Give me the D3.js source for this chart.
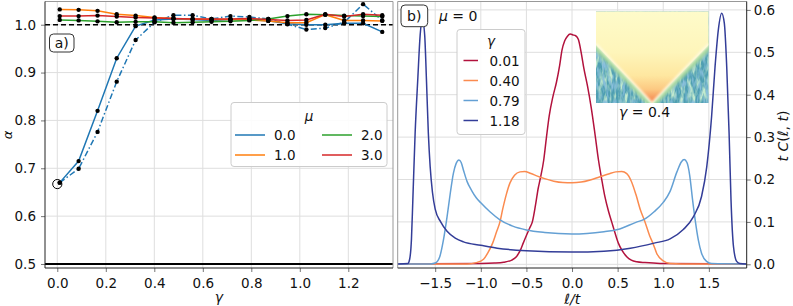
<!DOCTYPE html>
<html><head><meta charset="utf-8">
<script src="https://cdn.jsdelivr.net/npm/d3@7"></script>
<style>
body{margin:0;background:#fff}
svg{display:block}
text{font-family:"DejaVu Sans",sans-serif;fill:#111}
</style>
</head><body>
<svg id="c" width="793" height="306"></svg>
<script>
// ---------- Panel a) data ----------
const gammaVals = [0.01,0.088,0.166,0.245,0.323,0.401,0.479,0.558,0.636,0.714,0.792,0.870,0.949,1.027,1.105,1.183,1.261,1.340];
const muLabels = ["0.0","1.0","2.0","3.0"];
const alphaMu0   = [0.670,0.715,0.820,0.930,0.997,1.010,1.012,1.011,1.009,1.011,1.011,1.008,1.002,1.000,1.000,1.003,1.003,0.985];
const alphaMu0dd = [0.670,0.699,0.776,0.881,0.968,1.005,1.020,1.020,1.012,1.018,1.016,1.012,1.001,0.990,0.993,1.005,1.043,1.009];
const alphaMu1   = [1.032,1.031,1.029,1.022,1.019,1.015,1.013,1.012,1.011,1.011,1.010,1.008,1.004,1.004,1.021,1.009,1.009,1.008];
const alphaMu2   = [1.010,1.009,1.007,1.005,1.006,1.006,1.004,1.005,1.006,1.007,1.009,1.012,1.018,1.022,1.021,1.019,1.018,1.017];
const alphaMu3   = [1.018,1.018,1.019,1.017,1.015,1.014,1.013,1.012,1.012,1.012,1.013,1.011,1.009,1.010,1.022,1.017,1.022,1.020];
const refPoint = [0.0, 0.667];
const hLineDashed = 1.0, hLineSolid = 0.5;
const xTicksA = [0,0.2,0.4,0.6,0.8,1.0,1.2];
const yTicksA = [0.5,0.6,0.7,0.8,0.9,1.0];

// ---------- Panel b) data ----------
const gammaLabels = ["0.01","0.40","0.79","1.18"];
const curveG001 = [[-1.91,0.001],[-1.0,0.002],[-0.85,0.003],[-0.75,0.005],[-0.66,0.010],[-0.61,0.018],[-0.565,0.034],[-0.535,0.050],[-0.50,0.068],[-0.465,0.085],[-0.435,0.100],[-0.40,0.140],[-0.37,0.180],[-0.35,0.200],[-0.31,0.246],[-0.28,0.300],[-0.25,0.350],[-0.21,0.395],[-0.17,0.430],[-0.135,0.470],[-0.11,0.505],[-0.08,0.527],[-0.05,0.538],[-0.02,0.543],[0.01,0.541],[0.04,0.539],[0.07,0.530],[0.10,0.500],[0.13,0.462],[0.17,0.420],[0.21,0.370],[0.25,0.310],[0.29,0.246],[0.326,0.200],[0.36,0.160],[0.40,0.125],[0.435,0.100],[0.47,0.075],[0.508,0.050],[0.545,0.034],[0.60,0.018],[0.65,0.010],[0.71,0.006],[0.80,0.004],[0.965,0.002],[1.91,0.001]];
const curveG040 = [[-1.91,0.001],[-1.15,0.001],[-1.05,0.004],[-0.97,0.012],[-0.92,0.028],[-0.87,0.050],[-0.83,0.075],[-0.79,0.100],[-0.76,0.130],[-0.72,0.165],[-0.68,0.192],[-0.63,0.210],[-0.57,0.218],[-0.52,0.219],[-0.45,0.214],[-0.38,0.208],[-0.30,0.202],[-0.20,0.196],[-0.10,0.193],[0,0.1925],[0.10,0.194],[0.20,0.199],[0.30,0.206],[0.40,0.213],[0.48,0.218],[0.545,0.219],[0.60,0.214],[0.65,0.196],[0.70,0.165],[0.75,0.128],[0.80,0.100],[0.85,0.068],[0.89,0.048],[0.93,0.025],[1.0,0.008],[1.075,0.002],[1.20,0.001],[1.91,0.001]];
const curveG079 = [[-1.91,0.001],[-1.55,0.001],[-1.50,0.003],[-1.45,0.018],[-1.41,0.057],[-1.37,0.112],[-1.335,0.167],[-1.30,0.215],[-1.27,0.238],[-1.24,0.246],[-1.215,0.240],[-1.19,0.222],[-1.15,0.195],[-1.10,0.174],[-1.05,0.157],[-1.0,0.145],[-0.90,0.124],[-0.79,0.105],[-0.65,0.090],[-0.50,0.081],[-0.30,0.075],[0,0.0715],[0.35,0.077],[0.50,0.082],[0.70,0.099],[0.79,0.106],[0.90,0.124],[1.0,0.146],[1.075,0.172],[1.15,0.218],[1.20,0.242],[1.23,0.247],[1.26,0.240],[1.29,0.210],[1.32,0.155],[1.35,0.105],[1.385,0.057],[1.42,0.026],[1.475,0.007],[1.53,0.002],[1.91,0.001]];
const curveG118 = [[-1.91,0.001],[-1.80,0.002],[-1.78,0.012],[-1.76,0.060],[-1.745,0.152],[-1.72,0.309],[-1.69,0.440],[-1.665,0.540],[-1.64,0.578],[-1.615,0.540],[-1.595,0.430],[-1.575,0.309],[-1.555,0.230],[-1.53,0.170],[-1.50,0.130],[-1.44,0.100],[-1.37,0.078],[-1.28,0.062],[-1.19,0.053],[-1.0,0.045],[-0.82,0.038],[-0.50,0.032],[0,0.029],[0.35,0.031],[0.64,0.038],[0.90,0.050],[1.075,0.060],[1.22,0.082],[1.33,0.112],[1.42,0.160],[1.477,0.230],[1.53,0.348],[1.568,0.466],[1.604,0.553],[1.641,0.592],[1.67,0.568],[1.696,0.466],[1.722,0.309],[1.743,0.152],[1.77,0.042],[1.805,0.007],[1.84,0.002],[1.91,0.001]];
const xTicksB = [-1.5,-1,-0.5,0,0.5,1,1.5];
const yTicksB = [0,0.1,0.2,0.3,0.4,0.5,0.6];

// ---------- drawing ----------
const svg = d3.select("#c");
const FS = 13.5;
const fmt = d3.format(".1f");
const defs = svg.append("defs");

function styleAxis(g){
  g.select(".domain").remove();
  g.selectAll(".tick line").attr("stroke","#666").attr("stroke-width",0.9);
  g.selectAll(".tick text").attr("font-size",FS).attr("fill","#111").attr("font-family","DejaVu Sans");
}

// ===== Panel a =====
const A = {x0:45, x1:393, y0:1.5, y1:268};
const xA = d3.scaleLinear().domain([-0.0507,1.3843]).range([A.x0,A.x1]);
const yA = d3.scaleLinear().domain([0.4916,1.0485]).range([A.y1,A.y0]);
const gA = svg.append("g");
defs.append("clipPath").attr("id","clipA").append("rect")
  .attr("x",A.x0).attr("y",A.y0).attr("width",A.x1-A.x0).attr("height",A.y1-A.y0);

// grid
gA.append("g").selectAll("line").data(xTicksA).join("line")
  .attr("x1",d=>xA(d)).attr("x2",d=>xA(d)).attr("y1",A.y0).attr("y2",A.y1)
  .attr("stroke","#dedede").attr("stroke-width",1);
gA.append("g").selectAll("line").data(yTicksA).join("line")
  .attr("y1",d=>yA(d)).attr("y2",d=>yA(d)).attr("x1",A.x0).attr("x2",A.x1)
  .attr("stroke","#dedede").attr("stroke-width",1);

// axes
gA.append("g").attr("transform",`translate(0,${A.y1})`)
  .call(d3.axisBottom(xA).tickValues(xTicksA).tickFormat(fmt).tickSize(4).tickPadding(6)).call(styleAxis);
gA.append("g").attr("transform",`translate(${A.x0},0)`)
  .call(d3.axisLeft(yA).tickValues(yTicksA).tickFormat(fmt).tickSize(4).tickPadding(5)).call(styleAxis);

const plotA = gA.append("g").attr("clip-path","url(#clipA)");
// reference lines
plotA.append("line").attr("x1",A.x0).attr("x2",A.x1).attr("y1",yA(hLineSolid)).attr("y2",yA(hLineSolid))
  .attr("stroke","#000").attr("stroke-width",2);
plotA.append("line").attr("x1",A.x0).attr("x2",A.x1).attr("y1",yA(hLineDashed)).attr("y2",yA(hLineDashed))
  .attr("stroke","#000").attr("stroke-width",1.5).attr("stroke-dasharray","5,3");

const colA = ["#1f77b4","#ff7f0e","#2ca02c","#d62728"];
const seriesA = [
  {v:alphaMu0dd, c:colA[0], dash:"6,2.5,1.5,2.5"},
  {v:alphaMu0, c:colA[0], dash:null},
  {v:alphaMu1, c:colA[1], dash:null},
  {v:alphaMu2, c:colA[2], dash:null},
  {v:alphaMu3, c:colA[3], dash:null}
];
const lineA = d3.line().x((d,i)=>xA(gammaVals[i])).y(d=>yA(d));
seriesA.forEach(s=>{
  plotA.append("path").attr("d",lineA(s.v)).attr("fill","none")
    .attr("stroke",s.c).attr("stroke-width",1.5)
    .attr("stroke-dasharray",s.dash);
});
seriesA.forEach(s=>{
  plotA.append("g").selectAll("circle").data(s.v).join("circle")
    .attr("cx",(d,i)=>xA(gammaVals[i])).attr("cy",d=>yA(d)).attr("r",2.2).attr("fill","#000");
});
plotA.append("circle").attr("cx",xA(refPoint[0])).attr("cy",yA(refPoint[1])).attr("r",4.6)
  .attr("fill","none").attr("stroke","#000").attr("stroke-width",1);

// spines
gA.append("line").attr("x1",A.x0).attr("x2",A.x1).attr("y1",A.y0).attr("y2",A.y0).attr("stroke","#999");
gA.append("line").attr("x1",A.x1).attr("x2",A.x1).attr("y1",A.y0).attr("y2",A.y1).attr("stroke","#999");
gA.append("line").attr("x1",A.x0).attr("x2",A.x0).attr("y1",A.y0).attr("y2",A.y1).attr("stroke","#222");
gA.append("line").attr("x1",A.x0).attr("x2",A.x1).attr("y1",A.y1).attr("y2",A.y1).attr("stroke","#222");

// labels
svg.append("text").attr("x",(A.x0+A.x1)/2).attr("y",302).attr("text-anchor","middle")
  .attr("font-size",14).attr("font-style","italic").text("γ");
svg.append("text").attr("transform","translate(12,135) rotate(-90)").attr("text-anchor","middle")
  .attr("font-size",13).attr("font-style","italic").text("α");

// a) box
gA.append("rect").attr("x",49.5).attr("y",34).attr("width",24.5).attr("height",18).attr("rx",4)
  .attr("fill","#fff").attr("stroke","#333").attr("stroke-width",1);
gA.append("text").attr("x",61.8).attr("y",47.5).attr("text-anchor","middle").attr("font-size",14).text("a)");

// legend a
const legA = gA.append("g");
legA.append("rect").attr("x",231).attr("y",102.5).attr("width",156).attr("height",64).attr("rx",3)
  .attr("fill","#fff").attr("fill-opacity",0.9).attr("stroke","#cccccc");
legA.append("text").attr("x",309).attr("y",121).attr("text-anchor","middle")
  .attr("font-size",FS).attr("font-style","italic").text("μ");
const legPosA = [[235,135],[235,155],[322,135],[322,155]];
muLabels.forEach((lab,i)=>{
  const [lx,ly] = legPosA[i];
  legA.append("line").attr("x1",lx).attr("x2",lx+30).attr("y1",ly).attr("y2",ly)
    .attr("stroke",colA[i]).attr("stroke-width",1.5);
  legA.append("text").attr("x",lx+39).attr("y",ly+5).attr("font-size",FS).text(lab);
});

// ===== Panel b =====
const B = {x0:397.7, x1:746.7, y0:1.5, y1:268};
const xB = d3.scaleLinear().domain([-1.911,1.915]).range([B.x0,B.x1]);
const yB = d3.scaleLinear().domain([-0.0087,0.6198]).range([B.y1,B.y0]);
const gB = svg.append("g");
defs.append("clipPath").attr("id","clipB").append("rect")
  .attr("x",B.x0).attr("y",B.y0).attr("width",B.x1-B.x0).attr("height",B.y1-B.y0);

gB.append("g").selectAll("line").data(xTicksB).join("line")
  .attr("x1",d=>xB(d)).attr("x2",d=>xB(d)).attr("y1",B.y0).attr("y2",B.y1)
  .attr("stroke","#dedede").attr("stroke-width",1);
gB.append("g").selectAll("line").data(yTicksB).join("line")
  .attr("y1",d=>yB(d)).attr("y2",d=>yB(d)).attr("x1",B.x0).attr("x2",B.x1)
  .attr("stroke","#dedede").attr("stroke-width",1);

gB.append("g").attr("transform",`translate(0,${B.y1})`)
  .call(d3.axisBottom(xB).tickValues(xTicksB).tickFormat(fmt).tickSize(4).tickPadding(6)).call(styleAxis);
gB.append("g").attr("transform",`translate(${B.x1},0)`)
  .call(d3.axisRight(yB).tickValues(yTicksB).tickFormat(fmt).tickSize(4).tickPadding(3)).call(styleAxis);

// inset heat map (light cone picture, gamma = 0.4)
const I = {x:596, y:11.3, w:112.7, h:91.7};
const apex = [652, 103], edgeL = [596, 45], edgeR = [708.7, 45];
defs.append("clipPath").attr("id","clipI").append("rect")
  .attr("x",I.x).attr("y",I.y).attr("width",I.w).attr("height",I.h);
const f1 = defs.append("filter").attr("id","noise1").attr("x",0).attr("y",0).attr("width",1).attr("height",1);
f1.append("feTurbulence").attr("type","fractalNoise").attr("baseFrequency","0.25 0.07").attr("numOctaves",3).attr("seed",4).attr("result","t");
f1.append("feColorMatrix").attr("in","t").attr("type","matrix")
  .attr("values","0 0 0 0 0.54  0 0 0 0 0.82  0 0 0 0 0.62  3.4 0 0 0 -1.45");
const f2 = defs.append("filter").attr("id","noise2").attr("x",0).attr("y",0).attr("width",1).attr("height",1);
f2.append("feTurbulence").attr("type","fractalNoise").attr("baseFrequency","0.35 0.1").attr("numOctaves",2).attr("seed",11).attr("result","t");
f2.append("feColorMatrix").attr("in","t").attr("type","matrix")
  .attr("values","0 0 0 0 0.25  0 0 0 0 0.52  0 0 0 0 0.72  3.0 0 0 0 -1.35");
const blur = defs.append("filter").attr("id","blur2").attr("x","-20%").attr("y","-20%").attr("width","140%").attr("height","140%");
blur.append("feGaussianBlur").attr("stdDeviation",1.6);
const blur1 = defs.append("filter").attr("id","blur1").attr("x","-20%").attr("y","-20%").attr("width","140%").attr("height","140%");
blur1.append("feGaussianBlur").attr("stdDeviation",0.8);
const cg = defs.append("linearGradient").attr("id","coneGrad").attr("gradientUnits","userSpaceOnUse")
  .attr("x1",0).attr("y1",I.y).attr("x2",0).attr("y2",apex[1]);
[[0,"#fefbca"],[0.45,"#fef5ba"],[0.7,"#fee7a0"],[0.85,"#fcc982"],[0.95,"#f6955a"],[1,"#ec6a3c"]]
  .forEach(([o,c])=>cg.append("stop").attr("offset",o).attr("stop-color",c));

const gI = gB.append("g").attr("clip-path","url(#clipI)");
gI.append("rect").attr("x",I.x).attr("y",I.y).attr("width",I.w).attr("height",I.h).attr("fill","#4f9fb2");
gI.append("rect").attr("x",I.x).attr("y",I.y).attr("width",I.w).attr("height",I.h).attr("filter","url(#noise1)");
gI.append("rect").attr("x",I.x).attr("y",I.y).attr("width",I.w).attr("height",I.h).attr("filter","url(#noise2)");
const edgePts = [[edgeL[0]-2,edgeL[1]-2],apex,[edgeR[0]+2,edgeR[1]-2]];
gI.append("polyline").attr("points",edgePts.map(p=>p.join(",")).join(" "))
  .attr("fill","none").attr("stroke","#a9d9a0").attr("stroke-width",9).attr("filter","url(#blur2)");
gI.append("path")
  .attr("d",`M${I.x},${I.y} H${I.x+I.w} V${edgeR[1]} L${apex[0]},${apex[1]} L${I.x},${edgeL[1]} Z`)
  .attr("fill","url(#coneGrad)");
gI.append("polyline").attr("points",[[edgeL[0],edgeL[1]-1],apex,[edgeR[0],edgeR[1]-1]].map(p=>p.join(",")).join(" "))
  .attr("fill","none").attr("stroke","#fffbe2").attr("stroke-width",2.2).attr("filter","url(#blur1)");
gB.append("text").attr("x",619).attr("y",116.5).attr("font-size",14)
  .call(t=>{t.append("tspan").attr("font-style","italic").text("γ");t.append("tspan").text(" = 0.4");});

// curves
const colB = ["#b2123d","#fb8b4f","#64a0d4","#333d98"];
const curvesB = [curveG001,curveG040,curveG079,curveG118];
const plotB = gB.append("g").attr("clip-path","url(#clipB)");
const lineB = d3.line().x(d=>xB(d[0])).y(d=>yB(d[1])).curve(d3.curveMonotoneX);
curvesB.forEach((c,i)=>{
  plotB.append("path").attr("d",lineB(c)).attr("fill","none").attr("stroke",colB[i]).attr("stroke-width",1.5);
});

// spines
gB.append("line").attr("x1",B.x0).attr("x2",B.x1).attr("y1",B.y0).attr("y2",B.y0).attr("stroke","#999");
gB.append("line").attr("x1",B.x0).attr("x2",B.x0).attr("y1",B.y0).attr("y2",B.y1).attr("stroke","#999");
gB.append("line").attr("x1",B.x1).attr("x2",B.x1).attr("y1",B.y0).attr("y2",B.y1).attr("stroke","#222");
gB.append("line").attr("x1",B.x0).attr("x2",B.x1).attr("y1",B.y1).attr("y2",B.y1).attr("stroke","#222");

// labels
svg.append("text").attr("x",(B.x0+B.x1)/2).attr("y",303.5).attr("text-anchor","middle").attr("font-size",14)
  .text("ℓ/t").attr("font-style","italic");
svg.append("text").attr("transform","translate(788,136) rotate(-90)").attr("text-anchor","middle").attr("font-size",14)
  .call(t=>{
    t.append("tspan").attr("font-style","italic").text("t C");
    t.append("tspan").text("(");
    t.append("tspan").attr("font-style","italic").text("ℓ");
    t.append("tspan").text(", ");
    t.append("tspan").attr("font-style","italic").text("t");
    t.append("tspan").text(")");
  });

// b) box and mu label
gB.append("rect").attr("x",401).attr("y",5).attr("width",26.7).attr("height",21.7).attr("rx",4)
  .attr("fill","#fff").attr("stroke","#333").attr("stroke-width",1);
gB.append("text").attr("x",414.3).attr("y",20.5).attr("text-anchor","middle").attr("font-size",14).text("b)");
gB.append("text").attr("x",439).attr("y",20.5).attr("font-size",14)
  .call(t=>{t.append("tspan").attr("font-style","italic").text("μ");t.append("tspan").text(" = 0");});

// legend b
const legB = gB.append("g");
legB.append("rect").attr("x",457).attr("y",29.5).attr("width",68).attr("height",105).attr("rx",3)
  .attr("fill","#fff").attr("fill-opacity",0.9).attr("stroke","#cccccc");
legB.append("text").attr("x",491).attr("y",46).attr("text-anchor","middle")
  .attr("font-size",FS).attr("font-style","italic").text("γ");
gammaLabels.forEach((lab,i)=>{
  const ly = 60.5 + 20*i;
  legB.append("line").attr("x1",463.5).attr("x2",478).attr("y1",ly).attr("y2",ly)
    .attr("stroke",colB[i]).attr("stroke-width",1.5);
  legB.append("text").attr("x",489.5).attr("y",ly+5).attr("font-size",FS).text(lab);
});
</script>
</body></html>
